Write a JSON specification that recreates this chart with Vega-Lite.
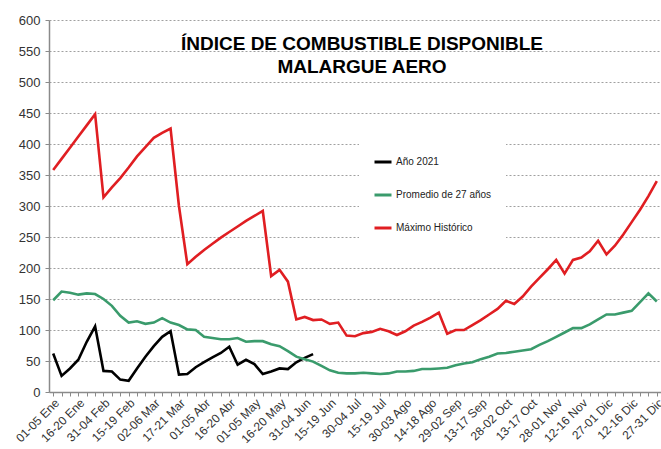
{
  "$schema": "https://vega.github.io/schema/vega-lite/v6.json",
  "width": 612,
  "height": 372,
  "autosize": "none",
  "padding": {"left": 49, "top": 20, "right": 0, "bottom": 57},
  "background": "white",
  "config": {"view": {"stroke": null}, "font": "Liberation Sans"},
  "title": {
    "text": ["ÍNDICE DE COMBUSTIBLE  DISPONIBLE", "MALARGUE  AERO"],
    "font": "Liberation Sans",
    "fontSize": 19,
    "fontWeight": "bold",
    "lineHeight": 23,
    "color": "#000000",
    "anchor": "middle",
    "dx": 7,
    "offset": -63
  },
  "data": {
    "values": [
      {"i": 0, "Año 2021": 62, "Promedio de 27 años": 148, "Máximo Histórico": 358},
      {"i": 1, "Año 2021": 26, "Promedio de 27 años": 162, "Máximo Histórico": 376},
      {"i": 2, "Año 2021": 38, "Promedio de 27 años": 160, "Máximo Histórico": 394},
      {"i": 3, "Año 2021": 52, "Promedio de 27 años": 157, "Máximo Histórico": 412},
      {"i": 4, "Año 2021": 81, "Promedio de 27 años": 159, "Máximo Histórico": 430},
      {"i": 5, "Año 2021": 106, "Promedio de 27 años": 158, "Máximo Histórico": 448},
      {"i": 6, "Año 2021": 34, "Promedio de 27 años": 150, "Máximo Histórico": 314},
      {"i": 7, "Año 2021": 33, "Promedio de 27 años": 139, "Máximo Histórico": 330},
      {"i": 8, "Año 2021": 20, "Promedio de 27 años": 123, "Máximo Histórico": 345},
      {"i": 9, "Año 2021": 18, "Promedio de 27 años": 112, "Máximo Histórico": 362},
      {"i": 10, "Año 2021": 38, "Promedio de 27 años": 114, "Máximo Histórico": 380},
      {"i": 11, "Año 2021": 57, "Promedio de 27 años": 110, "Máximo Histórico": 395},
      {"i": 12, "Año 2021": 74, "Promedio de 27 años": 112, "Máximo Histórico": 410},
      {"i": 13, "Año 2021": 89, "Promedio de 27 años": 119, "Máximo Histórico": 418},
      {"i": 14, "Año 2021": 98, "Promedio de 27 años": 112, "Máximo Histórico": 425},
      {"i": 15, "Año 2021": 28, "Promedio de 27 años": 108, "Máximo Histórico": 300},
      {"i": 16, "Año 2021": 29, "Promedio de 27 años": 101, "Máximo Histórico": 206},
      {"i": 17, "Año 2021": 40, "Promedio de 27 años": 100, "Máximo Histórico": 218},
      {"i": 18, "Año 2021": 48, "Promedio de 27 años": 89, "Máximo Histórico": 229},
      {"i": 19, "Año 2021": 56, "Promedio de 27 años": 87, "Máximo Histórico": 239},
      {"i": 20, "Año 2021": 63, "Promedio de 27 años": 85, "Máximo Histórico": 249},
      {"i": 21, "Año 2021": 73, "Promedio de 27 años": 85, "Máximo Histórico": 258},
      {"i": 22, "Año 2021": 44, "Promedio de 27 años": 87, "Máximo Histórico": 267},
      {"i": 23, "Año 2021": 52, "Promedio de 27 años": 81, "Máximo Histórico": 276},
      {"i": 24, "Año 2021": 45, "Promedio de 27 años": 82, "Máximo Histórico": 284},
      {"i": 25, "Año 2021": 29, "Promedio de 27 años": 82, "Máximo Histórico": 292},
      {"i": 26, "Año 2021": 33, "Promedio de 27 años": 77, "Máximo Histórico": 187},
      {"i": 27, "Año 2021": 38, "Promedio de 27 años": 74, "Máximo Histórico": 197},
      {"i": 28, "Año 2021": 37, "Promedio de 27 años": 66, "Máximo Histórico": 178},
      {"i": 29, "Año 2021": 48, "Promedio de 27 años": 57, "Máximo Histórico": 117},
      {"i": 30, "Año 2021": 55, "Promedio de 27 años": 53, "Máximo Histórico": 121},
      {"i": 31, "Año 2021": 61, "Promedio de 27 años": 49, "Máximo Histórico": 116},
      {"i": 32, "Promedio de 27 años": 42, "Máximo Histórico": 117},
      {"i": 33, "Promedio de 27 años": 35, "Máximo Histórico": 110},
      {"i": 34, "Promedio de 27 años": 31, "Máximo Histórico": 112},
      {"i": 35, "Promedio de 27 años": 30, "Máximo Histórico": 91},
      {"i": 36, "Promedio de 27 años": 30, "Máximo Histórico": 90},
      {"i": 37, "Promedio de 27 años": 31, "Máximo Histórico": 95},
      {"i": 38, "Promedio de 27 años": 30, "Máximo Histórico": 97},
      {"i": 39, "Promedio de 27 años": 29, "Máximo Histórico": 102},
      {"i": 40, "Promedio de 27 años": 30, "Máximo Histórico": 98},
      {"i": 41, "Promedio de 27 años": 33, "Máximo Histórico": 92},
      {"i": 42, "Promedio de 27 años": 33, "Máximo Histórico": 98},
      {"i": 43, "Promedio de 27 años": 34, "Máximo Histórico": 107},
      {"i": 44, "Promedio de 27 años": 37, "Máximo Histórico": 113},
      {"i": 45, "Promedio de 27 años": 37, "Máximo Histórico": 120},
      {"i": 46, "Promedio de 27 años": 38, "Máximo Histórico": 128},
      {"i": 47, "Promedio de 27 años": 39, "Máximo Histórico": 94},
      {"i": 48, "Promedio de 27 años": 43, "Máximo Histórico": 100},
      {"i": 49, "Promedio de 27 años": 46, "Máximo Histórico": 100},
      {"i": 50, "Promedio de 27 años": 48, "Máximo Histórico": 108},
      {"i": 51, "Promedio de 27 años": 53, "Máximo Histórico": 116},
      {"i": 52, "Promedio de 27 años": 57, "Máximo Histórico": 125},
      {"i": 53, "Promedio de 27 años": 62, "Máximo Histórico": 134},
      {"i": 54, "Promedio de 27 años": 63, "Máximo Histórico": 147},
      {"i": 55, "Promedio de 27 años": 65, "Máximo Histórico": 142},
      {"i": 56, "Promedio de 27 años": 67, "Máximo Histórico": 154},
      {"i": 57, "Promedio de 27 años": 69, "Máximo Histórico": 170},
      {"i": 58, "Promedio de 27 años": 76, "Máximo Histórico": 184},
      {"i": 59, "Promedio de 27 años": 82, "Máximo Histórico": 198},
      {"i": 60, "Promedio de 27 años": 89, "Máximo Histórico": 213},
      {"i": 61, "Promedio de 27 años": 96, "Máximo Histórico": 191},
      {"i": 62, "Promedio de 27 años": 103, "Máximo Histórico": 213},
      {"i": 63, "Promedio de 27 años": 103, "Máximo Histórico": 217},
      {"i": 64, "Promedio de 27 años": 109, "Máximo Histórico": 227},
      {"i": 65, "Promedio de 27 años": 117, "Máximo Histórico": 244},
      {"i": 66, "Promedio de 27 años": 125, "Máximo Histórico": 222},
      {"i": 67, "Promedio de 27 años": 125, "Máximo Histórico": 236},
      {"i": 68, "Promedio de 27 años": 128, "Máximo Histórico": 254},
      {"i": 69, "Promedio de 27 años": 131, "Máximo Histórico": 274},
      {"i": 70, "Promedio de 27 años": 145, "Máximo Histórico": 294},
      {"i": 71, "Promedio de 27 años": 159, "Máximo Histórico": 316},
      {"i": 72, "Promedio de 27 años": 146, "Máximo Histórico": 340}
    ]
  },
  "transform": [
    {"fold": ["Año 2021", "Promedio de 27 años", "Máximo Histórico"], "as": ["serie", "v"]},
    {"filter": "isValid(datum.v)"}
  ],
  "mark": {"type": "line", "strokeWidth": 2.6, "strokeJoin": "miter", "clip": false},
  "encoding": {
    "x": {
      "field": "i",
      "type": "quantitative",
      "scale": {"domain": [-0.5, 72.5], "nice": false, "zero": false},
      "axis": {
        "title": null,
        "grid": false,
        "values": [0,1,2,3,4,5,6,7,8,9,10,11,12,13,14,15,16,17,18,19,20,21,22,23,24,25,26,27,28,29,30,31,32,33,34,35,36,37,38,39,40,41,42,43,44,45,46,47,48,49,50,51,52,53,54,55,56,57,58,59,60,61,62,63,64,65,66,67,68,69,70,71,72],
        "labelExpr": "datum.value % 3 == 0 ? ['01-05 Ene','16-20 Ene','31-04 Feb','15-19 Feb','02-06 Mar','17-21 Mar','01-05 Abr','16-20 Abr','01-05 May','16-20 May','31-04 Jun','15-19 Jun','30-04 Jul','15-19 Jul','30-03 Ago','14-18 Ago','29-02 Sep','13-17 Sep','28-02 Oct','13-17 Oct','28-01 Nov','12-16 Nov','27-01 Dic','12-16 Dic','27-31 Dic'][datum.value / 3] : ''",
        "labelAngle": -45,
        "labelAlign": "right",
        "labelBaseline": "top",
        "labelFontSize": 12,
        "labelColor": "#333333",
        "labelFont": "Liberation Sans",
        "labelOverlap": false,
        "labelBound": false,
        "labelFlush": false,
        "labelPadding": 1,
        "tickSize": 4,
        "tickColor": "#8a8a8a",
        "domainColor": "#8a8a8a",
        "domainWidth": 1.5
      }
    },
    "y": {
      "field": "v",
      "type": "quantitative",
      "scale": {"domain": [0, 600], "nice": false},
      "axis": {
        "title": null,
        "values": [0,50,100,150,200,250,300,350,400,450,500,550,600],
        "grid": true,
        "gridDash": [2, 2],
        "gridColor": "#a0a0a0",
        "gridWidth": 1,
        "labelFontSize": 13,
        "labelColor": "#333333",
        "labelFont": "Liberation Sans",
        "labelPadding": 5,
        "tickSize": 4,
        "tickColor": "#8a8a8a",
        "domainColor": "#8a8a8a",
        "domainWidth": 1.5
      }
    },
    "color": {
      "field": "serie",
      "type": "nominal",
      "scale": {
        "domain": ["Año 2021", "Promedio de 27 años", "Máximo Histórico"],
        "range": ["#000000", "#3a9b6c", "#e01e22"]
      },
      "legend": {
        "title": null,
        "orient": "none",
        "legendX": 310,
        "legendY": 118,
        "fillColor": "white",
        "padding": 14,
        "symbolType": "stroke",
        "symbolSize": 289,
        "symbolStrokeWidth": 3,
        "labelFontSize": 10,
        "labelFont": "Liberation Sans",
        "labelColor": "#222222",
        "labelOffset": 3,
        "rowPadding": 17
      }
    }
  }
}
